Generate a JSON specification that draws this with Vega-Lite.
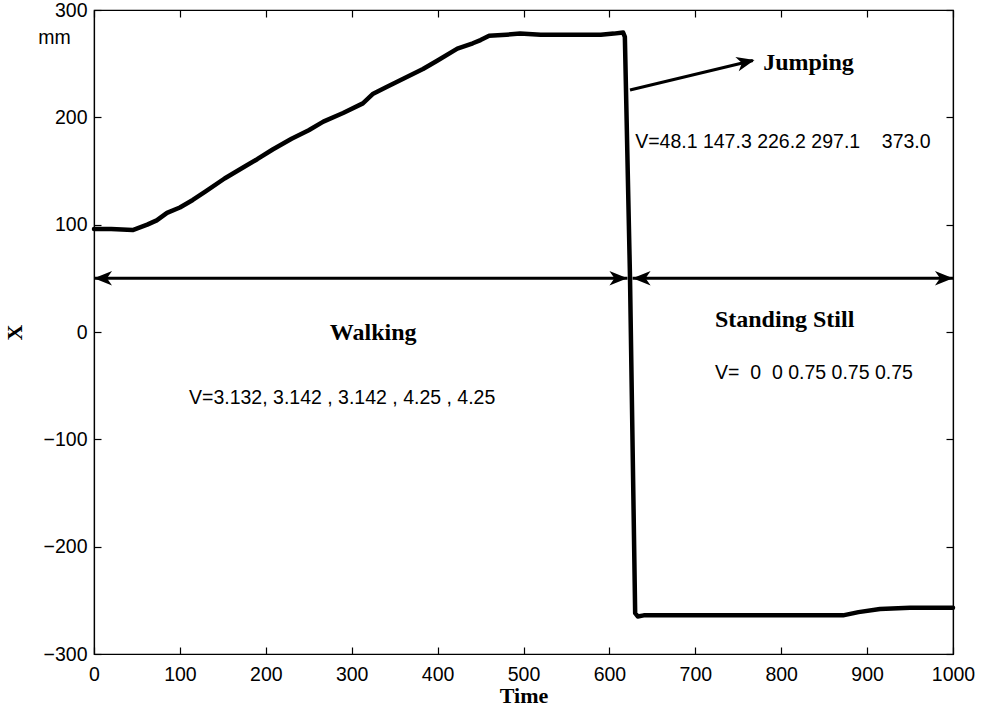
{
  "$schema": "https://vega.github.io/schema/vega-lite/v6.json",
  "width": 859,
  "height": 644,
  "autosize": {"type": "none"},
  "padding": {"left": 94, "top": 10, "right": 29, "bottom": 59},
  "background": "white",
  "config": {
    "view": {"stroke": "black", "strokeWidth": 1.2},
    "axis": {
      "grid": false,
      "domainColor": "black",
      "domainWidth": 1.2,
      "tickColor": "black",
      "tickWidth": 1.2,
      "tickSize": -7,
      "labelFlush": false,
      "labelOverlap": false,
      "labelColor": "black",
      "labelFont": "Liberation Sans",
      "labelFontSize": 19.5,
      "titleColor": "black",
      "titleFont": "Liberation Serif",
      "titleFontWeight": "bold",
      "titleFontSize": 22
    }
  },
  "datasets": {
    "curve": [
      {"t": 0, "v": 96}, {"t": 20, "v": 96}, {"t": 45, "v": 95}, {"t": 52, "v": 97},
      {"t": 62, "v": 100}, {"t": 73, "v": 104}, {"t": 85, "v": 111}, {"t": 100, "v": 116},
      {"t": 115, "v": 123}, {"t": 130, "v": 131}, {"t": 152, "v": 143}, {"t": 175, "v": 154},
      {"t": 190, "v": 161}, {"t": 208, "v": 170}, {"t": 230, "v": 180}, {"t": 250, "v": 188},
      {"t": 267, "v": 196}, {"t": 290, "v": 204}, {"t": 313, "v": 213}, {"t": 325, "v": 222},
      {"t": 340, "v": 228}, {"t": 360, "v": 236}, {"t": 383, "v": 245}, {"t": 400, "v": 253},
      {"t": 423, "v": 264}, {"t": 441, "v": 269}, {"t": 450, "v": 272}, {"t": 460, "v": 276},
      {"t": 480, "v": 277}, {"t": 496, "v": 278}, {"t": 520, "v": 277}, {"t": 560, "v": 277},
      {"t": 590, "v": 277}, {"t": 605, "v": 278}, {"t": 616, "v": 279}, {"t": 618, "v": 275},
      {"t": 624, "v": 50}, {"t": 630, "v": -262}, {"t": 633, "v": -265}, {"t": 640, "v": -264},
      {"t": 700, "v": -264}, {"t": 800, "v": -264}, {"t": 872, "v": -264}, {"t": 890, "v": -261},
      {"t": 915, "v": -258}, {"t": 950, "v": -257}, {"t": 1000, "v": -257}
    ],
    "segments": [
      {"t": 0, "v": 50, "t2": 621, "v2": 50},
      {"t": 627, "v": 50, "t2": 1000, "v2": 50},
      {"t": 624, "v": 225.5, "t2": 767, "v2": 253}
    ],
    "headsRight": [
      {"t": 621, "v": 50},
      {"t": 1000, "v": 50}
    ],
    "headsLeft": [
      {"t": 0, "v": 50},
      {"t": 627, "v": 50}
    ],
    "headsJump": [
      {"t": 769, "v": 253.5}
    ],
    "titlesLeft": [
      {"t": 779, "v": 251, "label": "Jumping"}
    ],
    "titlesCenter": [
      {"t": 325, "v": -1, "label": "Walking"},
      {"t": 804, "v": 11, "label": "Standing Still"}
    ],
    "notes": [
      {"t": 630, "v": 177, "label": "V=48.1 147.3 226.2 297.1\u00a0\u00a0\u00a0 373.0"},
      {"t": 110.6, "v": -61.5, "label": "V=3.132, 3.142 , 3.142 , 4.25 , 4.25"},
      {"t": 723, "v": -38, "label": "V=\u00a0 0\u00a0 0 0.75 0.75 0.75"},
      {"t": -65, "v": 274, "label": "mm"}
    ]
  },
  "resolve": {"axis": {"x": "independent", "y": "independent"}},
  "layer": [
    {
      "data": {"name": "curve"},
      "mark": {"type": "line", "color": "black", "strokeWidth": 4.5, "strokeJoin": "round", "strokeCap": "round"},
      "encoding": {
        "x": {"field": "t", "type": "quantitative", "sort": null,
              "scale": {"domain": [0, 1000], "nice": false, "zero": false},
              "axis": {"orient": "bottom", "values": [0,100,200,300,400,500,600,700,800,900,1000], "format": "d", "labelPadding": 18, "title": "Time", "titlePadding": 2}},
        "y": {"field": "v", "type": "quantitative",
              "scale": {"domain": [-300, 300], "nice": false, "zero": false},
              "axis": {"orient": "left", "values": [-300,-200,-100,0,100,200,300], "format": "d", "labelPadding": 14, "title": "X", "titlePadding": 17}},
        "order": {"field": "t", "type": "quantitative"}
      }
    },
    {
      "data": {"name": "segments"},
      "mark": {"type": "rule", "color": "black", "strokeWidth": 3},
      "encoding": {
        "x": {"field": "t", "type": "quantitative",
              "axis": {"orient": "top", "values": [0,100,200,300,400,500,600,700,800,900,1000], "labels": false, "title": null}},
        "x2": {"field": "t2"},
        "y": {"field": "v", "type": "quantitative",
              "axis": {"orient": "right", "values": [-300,-200,-100,0,100,200,300], "labels": false, "title": null}},
        "y2": {"field": "v2"}
      }
    },
    {
      "data": {"name": "headsRight"},
      "mark": {"type": "point", "shape": "M0,0L-1,-0.4L-0.72,0L-1,0.4Z", "filled": true, "color": "black", "opacity": 1, "size": 1300, "strokeWidth": 0},
      "encoding": {
        "x": {"field": "t", "type": "quantitative", "axis": null},
        "y": {"field": "v", "type": "quantitative", "axis": null}
      }
    },
    {
      "data": {"name": "headsLeft"},
      "mark": {"type": "point", "shape": "M0,0L1,-0.4L0.72,0L1,0.4Z", "filled": true, "color": "black", "opacity": 1, "size": 1300, "strokeWidth": 0},
      "encoding": {
        "x": {"field": "t", "type": "quantitative", "axis": null},
        "y": {"field": "v", "type": "quantitative", "axis": null}
      }
    },
    {
      "data": {"name": "headsJump"},
      "mark": {"type": "point", "shape": "M0,0L-1,-0.4L-0.72,0L-1,0.4Z", "filled": true, "color": "black", "opacity": 1, "size": 1300, "strokeWidth": 0, "angle": -13.5},
      "encoding": {
        "x": {"field": "t", "type": "quantitative", "axis": null},
        "y": {"field": "v", "type": "quantitative", "axis": null}
      }
    },
    {
      "data": {"name": "titlesLeft"},
      "mark": {"type": "text", "font": "Liberation Serif", "fontWeight": "bold", "fontSize": 24, "align": "left", "baseline": "middle", "color": "black"},
      "encoding": {
        "x": {"field": "t", "type": "quantitative", "axis": null},
        "y": {"field": "v", "type": "quantitative", "axis": null},
        "text": {"field": "label"}
      }
    },
    {
      "data": {"name": "titlesCenter"},
      "mark": {"type": "text", "font": "Liberation Serif", "fontWeight": "bold", "fontSize": 24, "align": "center", "baseline": "middle", "color": "black"},
      "encoding": {
        "x": {"field": "t", "type": "quantitative", "axis": null},
        "y": {"field": "v", "type": "quantitative", "axis": null},
        "text": {"field": "label"}
      }
    },
    {
      "data": {"name": "notes"},
      "mark": {"type": "text", "font": "Liberation Sans", "fontSize": 19.5, "align": "left", "baseline": "middle", "color": "black"},
      "encoding": {
        "x": {"field": "t", "type": "quantitative", "axis": null},
        "y": {"field": "v", "type": "quantitative", "axis": null},
        "text": {"field": "label"}
      }
    }
  ]
}
